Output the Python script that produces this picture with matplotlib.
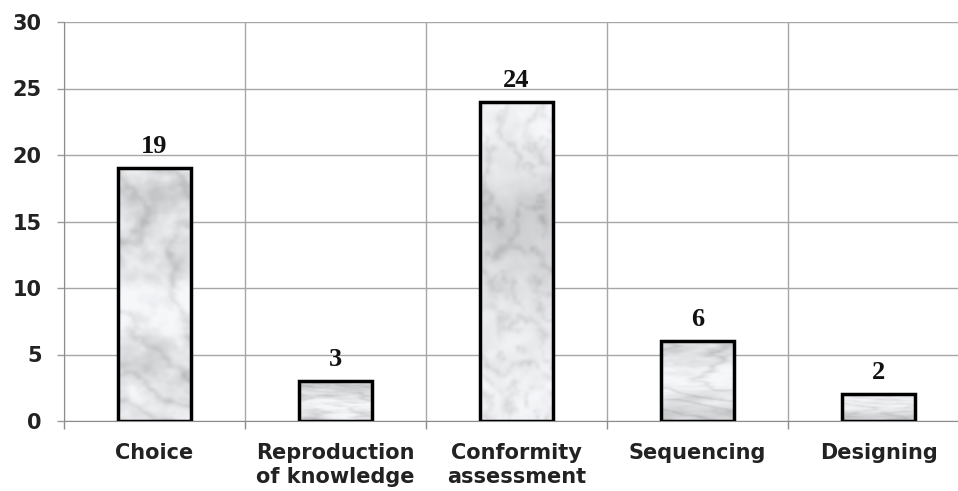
import matplotlib
matplotlib.use("Agg")
import matplotlib.pyplot as plt
import numpy as np

# data
categories = ["Choice", "Reproduction\nof knowledge", "Conformity\nassessment",
              "Sequencing", "Designing"]
counts = [19, 3, 24, 6, 2]
yticks = [0, 5, 10, 15, 20, 25, 30]


def marble(h, w, seed):
    # soft grey-white marble texture from filtered noise
    rng = np.random.default_rng(seed)
    fy = np.fft.fftfreq(h)[:, None]
    fx = np.fft.fftfreq(w)[None, :]
    f = np.sqrt(fx ** 2 + fy ** 2)
    f[0, 0] = 1.0

    def field(beta):
        spec = np.fft.fft2(rng.standard_normal((h, w))) / f ** beta
        spec[0, 0] = 0
        a = np.real(np.fft.ifft2(spec))
        return (a - a.mean()) / a.std()

    turb = field(1.8)
    cloud = field(1.5)
    yy, xx = np.mgrid[0:h, 0:w]
    veins = np.abs(np.sin(xx * 0.16 - yy * 0.09 + 2.0 * turb))
    v = 0.91 - 0.12 * (1 - veins) ** 3 - 0.05 * np.clip(cloud, -1.5, 2.5)
    v = np.clip(v, 0.64, 0.98)
    return np.dstack([v * 0.985, v * 0.99, v])


fig = plt.figure(figsize=(9.58, 4.91), dpi=100)
ax = fig.add_axes([64 / 958, 70 / 491, 905 / 958, 399 / 491])

x = np.arange(len(categories))
bars = ax.bar(x, counts, width=0.4, facecolor="none", edgecolor="black",
              linewidth=2.5, zorder=3)

for i, b in enumerate(bars):
    x0, y0 = b.get_x(), b.get_y()
    tex = marble(110, 26, seed=7 + i)
    im = ax.imshow(tex, extent=[x0, x0 + b.get_width(), y0, y0 + b.get_height()],
                   aspect="auto", zorder=2.5, interpolation="bicubic")
    im.set_clip_path(b)

for xi, v in zip(x, counts):
    ax.text(xi, v + 1.15, str(v), ha="center", va="baseline",
            fontsize=19, fontweight="bold", family="Liberation Serif", color="#111111")

ax.set_xlim(-0.5, len(categories) - 0.5)
ax.set_ylim(0, 30)

# category separators as major ticks, names on minor ticks
ax.set_xticks(np.arange(len(categories) + 1) - 0.5)
ax.set_xticklabels([])
ax.set_xticks(x, minor=True)
ax.set_xticklabels(categories, minor=True, fontsize=15, fontweight="bold",
                   family="DejaVu Sans", color="#222222", linespacing=1.25)
ax.tick_params(axis="x", which="minor", length=0, pad=16)
ax.tick_params(axis="x", which="major", length=6, width=1, color="#8c8c8c")

ax.set_yticks(yticks)
ax.set_yticklabels([str(t) for t in yticks], fontsize=15, fontweight="bold",
                   family="DejaVu Sans", color="#222222")
ax.tick_params(axis="y", length=5, width=1, color="#9a9a9a", pad=11)

ax.grid(True, which="major", color="#a6a6a6", linewidth=1.0, zorder=0)
ax.set_axisbelow(True)
for s in ["top", "right"]:
    ax.spines[s].set_visible(False)
ax.spines["left"].set_color("#8c8c8c")
ax.spines["bottom"].set_color("#8c8c8c")

fig.savefig("out.png", dpi=100)
